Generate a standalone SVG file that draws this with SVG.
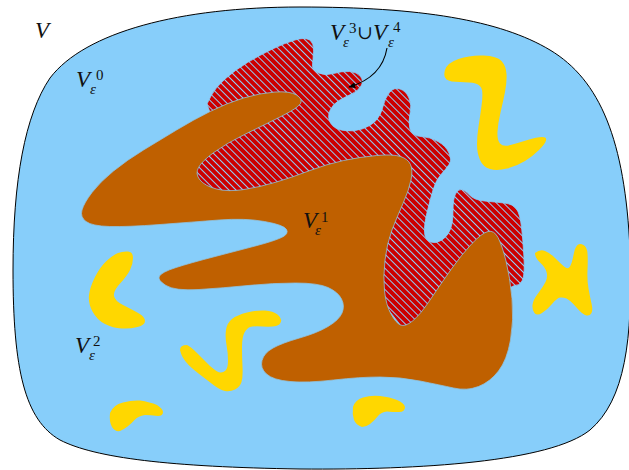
<svg xmlns="http://www.w3.org/2000/svg" width="629" height="470" viewBox="0 0 629 470">
<style>
.lbl{font-family:"Liberation Serif","DejaVu Serif",serif;font-style:italic;fill:#111}
.big{font-size:23px}
.sm{font-size:15px}
.up{font-style:normal}
.yel{fill:#ffd700}
</style>
<defs>
<pattern id="hatch" width="5" height="5" patternUnits="userSpaceOnUse" patternTransform="rotate(45)">
<rect width="5" height="5" fill="#cc0000"/>
<line x1="-1" y1="2.5" x2="6" y2="2.5" stroke="#8fd0f8" stroke-width="1.05"/>
</pattern>
<marker id="ah" viewBox="0 0 10 10" refX="9" refY="5" markerWidth="7" markerHeight="7" orient="auto" markerUnits="userSpaceOnUse">
<path d="M0,1 L10,5 L0,9 Z" fill="#000"/>
</marker>
</defs>
<rect width="629" height="470" fill="#fff"/>
<g id="V">
<path d="M 300,7 C 420,7 500,20 550,50 C 600,80 625,140 630,250 C 633,340 625,400 590,430 C 550,462 420,470 300,469 C 170,467 95,458 60,440 C 25,420 13,370 13,270 C 13,180 25,115 50,78 C 85,32 180,7 300,7 Z" fill="#87cefa" stroke="#000" stroke-width="1"/>
</g>
<g id="V34">
<path d="M 207,104 L 211,96 Q 215,88 225,79 Q 235,70 247.5,62.5 Q 260,55 272.5,49 Q 285,43 295,40 Q 305,37 309.5,40 Q 314,43 313.5,51.5 Q 313,60 312.5,65 Q 312,70 318.5,73 Q 325,76 333.5,73.5 Q 342,71 349.5,71.5 Q 357,72 360.5,76.5 Q 364,81 361,86 Q 358,91 351.5,94 Q 345,97 339,100.5 Q 333,104 330,110.5 Q 327,117 330.5,123 Q 334,129 343.5,130.5 Q 353,132 362,129 Q 371,126 376,120.5 Q 381,115 383,106.5 Q 385,98 389.5,92.5 Q 394,87 400,89 Q 406,91 409,98 Q 412,105 410,113.5 Q 408,122 410,129 Q 412,136 421,136.5 Q 430,137 438,141.5 Q 446,146 449,153 Q 452,160 449,164.5 Q 446,169 441,174.5 Q 436,180 433,190 Q 430,200 427,212.5 Q 424,225 424.5,232.5 Q 425,240 430.5,242 Q 436,244 442,240 Q 448,236 450.5,229 Q 453,222 453,210.5 Q 453,199 455.5,194 Q 458,189 461.5,189.5 Q 465,190 469.5,195 Q 474,200 484.5,201 Q 495,202 504,203 Q 513,204 516.5,209 Q 520,214 521.5,227 Q 523,240 524,258 Q 525,276 522,281 Q 519,286 514.5,285.5 L 505,290 L 490,320 L 420,350 L 365,280 L 330,230 L 260,205 L 190,195 L 185,150 L 212,118 Z" fill="url(#hatch)" stroke="#87cefa" stroke-width="0.8"/>
</g>
<g id="V1">
<path d="M 86,221.5 Q 80,217 82,210 Q 84,203 92,192.5 Q 100,182 113.5,171 Q 127,160 143.5,150 Q 160,140 176.5,130 Q 193,120 210,111.5 Q 227,103 243.5,98 Q 260,93 275,92 Q 290,91 296.5,95 Q 303,99 300.5,103.5 Q 298,108 280,117 Q 262,126 244.5,134.5 Q 227,143 214.5,152 Q 202,161 198.5,167.5 Q 195,174 200,180 Q 205,186 216.5,189 Q 228,192 244,189.5 Q 260,187 276.5,182 Q 293,177 310,170.5 Q 327,164 343.5,160.5 Q 360,157 376.5,155.5 Q 393,154 400.5,156.5 Q 408,159 410.5,164.5 Q 413,170 411,180 Q 409,190 403,203.5 Q 397,217 392,230 Q 387,243 385,260 Q 383,277 384.5,291 Q 386,305 391,314 Q 396,323 400.5,325 Q 405,327 412.5,321 Q 420,315 430,300 Q 440,285 451,269.5 Q 462,254 472,243.5 Q 482,233 488,231.5 Q 494,230 498,237.5 Q 502,245 506,261 Q 510,277 512,298.5 Q 514,320 510.5,340 Q 507,360 498.5,371 Q 490,382 478.5,386.5 Q 467,391 453.5,388 Q 440,385 420,381 Q 400,377 380,377 Q 360,377 333.5,380 Q 307,383 290,381.5 Q 273,380 266.5,374 Q 260,368 262,360.5 Q 264,353 273,348 Q 282,343 299.5,338 Q 317,333 328,326.5 Q 339,320 342,313 Q 345,306 341.5,299 Q 338,292 328,287.5 Q 318,283 295.5,283 Q 273,283 248,285.5 Q 223,288 199,289.5 Q 175,291 166,285.5 Q 157,280 159.5,276 Q 162,272 176,267.5 Q 190,263 215,256.5 Q 240,250 257,245.5 Q 274,241 281.5,237.5 Q 289,234 286.5,229.5 Q 284,225 264.5,221.5 Q 245,218 219,220 Q 193,222 160,224.5 Q 127,227 109.5,226.5 Q 92,226 86,221.5 Z" fill="#bf6000" stroke="#8fc3e0" stroke-width="0.8"/>
</g>
<g id="V2">
<path class="yel" d="M 445,70 Q 447,63 458.5,59 Q 470,55 483.5,55.5 Q 497,56 501.5,61 Q 506,66 506.5,74 Q 507,82 505,92 Q 503,102 500.5,112.5 Q 498,123 497.5,131.5 Q 497,140 500,143.5 Q 503,147 510.5,145 Q 518,143 527.5,140 Q 537,137 542,137 Q 547,137 546,140.5 Q 545,144 539,150 Q 533,156 525,161 Q 517,166 507,168.5 Q 497,171 490,169 Q 483,167 480,160 Q 477,153 477,144.5 Q 477,136 478.5,126.5 Q 480,117 481.5,106 Q 483,95 482,90 Q 481,85 475.5,83.5 Q 470,82 460,82 Q 450,82 446.5,79.5 Q 443,77 445,70 Z"/>
<path class="yel" d="M 535,253 Q 540,249 545,251 Q 550,253 555,258 Q 560,263 564,266.5 Q 568,270 570,266.5 Q 572,263 573.5,255 Q 575,247 577.5,245 Q 580,243 583.5,245 Q 587,247 587.5,253.5 Q 588,260 587.5,270 Q 587,280 588.5,288.5 Q 590,297 591.5,303.5 Q 593,310 591.5,313 Q 590,316 586.5,315.5 Q 583,315 576.5,307.5 Q 570,300 566.5,298.5 Q 563,297 560,297.5 Q 557,298 552,304 Q 547,310 542,313 Q 537,316 534.5,313 Q 532,310 532.5,305 Q 533,300 538,293.5 Q 543,287 545.5,282 Q 548,277 546.5,272 Q 545,267 540,262.5 Q 535,258 535,253 Z"/>
<path class="yel" d="M 128,251.5 Q 133,252 133,258 Q 133,264 130,270 Q 127,276 120.5,283 Q 113,291 114,296 Q 115,301 123,305 Q 133,310 139,313.5 Q 145,317 145,321 Q 145,325 137.5,327 Q 130,329 121.5,328.5 Q 113,328 105,324 Q 97,320 92.5,311.5 Q 88,303 89,295 Q 90,287 95,277 Q 100,267 106.5,261 Q 113,255 118,253 Q 123,251 128,251.5 Z"/>
<path class="yel" d="M 180,350 Q 180,345 187,345 Q 190,346 197,353 Q 204,360 210,366 Q 217,372 220,372.5 Q 223,373 225.5,370.5 Q 228,368 228,360.5 Q 228,353 226.5,345 Q 225,337 226,330 Q 227,323 232,319 Q 237,315 247,312.5 Q 257,310 265,310.5 Q 273,311 277.5,314.5 Q 282,318 281,321.5 Q 280,325 276,326 Q 272,327 262.5,326.5 Q 253,326 250,327 Q 247,328 244.5,332.5 Q 242,337 242,347 Q 242,357 242.5,367 Q 243,377 241.5,382 Q 240,387 235,389.5 Q 230,392 225,391 Q 220,390 213.5,385 Q 207,380 198.5,373.5 Q 190,367 186,362 Q 182,357 181,353.5 Q 180,350 180,350 Z"/>
<path class="yel" d="M 110,413 Q 113,405 123,402.5 Q 132,400 140,400.5 Q 150,402 157,405 Q 163,409 163,412 Q 163,416 158,416 Q 150,415 145,415 Q 138,416 135,419.5 Q 132,423 127.5,426.5 Q 123,430 120,431 Q 115,432 112,427 Q 109,422 110,413 Z"/>
<path class="yel" d="M 353,407 Q 355,400 363,397.5 Q 371,395 380,396 Q 390,397 397,400 Q 404,403 405,407 Q 405,412 399,412 Q 392,412 387,411.5 Q 381,412 378,416 Q 375,420 370,424 Q 366,427 362,427 Q 356,425 354,420 Q 352,414 353,407 Z"/>
</g>
<g id="labels">
<text class="lbl big" x="35" y="38">V</text>
<text class="lbl big" x="76" y="87">V</text><text class="lbl sm up" x="96" y="80">0</text><text class="lbl sm" x="90" y="94">ε</text>
<text class="lbl big" x="303" y="228">V</text><text class="lbl sm up" x="321" y="222">1</text><text class="lbl sm" x="315" y="235">ε</text>
<text class="lbl big" x="75" y="353">V</text><text class="lbl sm up" x="93" y="346">2</text><text class="lbl sm" x="89" y="360">ε</text>
<text class="lbl big" x="330" y="40">V</text><text class="lbl sm up" x="349" y="33">3</text><text class="lbl sm" x="343" y="47">ε</text>
<text class="lbl up" x="357" y="39" font-size="19">∪</text>
<text class="lbl big" x="373" y="40">V</text><text class="lbl sm up" x="393" y="32">4</text><text class="lbl sm" x="388" y="47">ε</text>
</g>
<g id="connectors">
<path d="M 387,48 C 384,66 373,80 349,87" fill="none" stroke="#000" stroke-width="1.1" marker-end="url(#ah)"/>
</g>
</svg>
